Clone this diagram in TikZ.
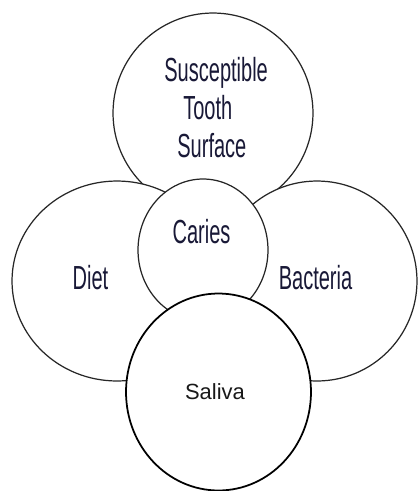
\documentclass[tikz,border=0pt]{standalone}
\usepackage{fontspec}
\setmainfont{Liberation Sans}
\newfontfamily\narrowfont[FakeStretch=0.6]{Liberation Sans}
\usetikzlibrary{shapes.geometric,positioning}
\definecolor{inkblue}{RGB}{25,25,55}

\begin{document}
\begin{tikzpicture}[
    x=0.02cm, y=-0.02cm,
    ring/.style={draw=black!85, ellipse, fill=white, line width=0.7pt, inner sep=0pt},
    ringbold/.style={ring, draw=black, line width=1.0pt},
    txt/.style={font=\narrowfont\fontsize{19}{21.5}\selectfont, text=inkblue, inner sep=0pt}
]
    \useasboundingbox (0,0) rectangle (417,491);

    % Top circle: tooth surface
    \node[ring, minimum width=4cm, minimum height=4cm] (tooth) at (213,113) {};
    \node[txt, align=left, anchor=north west] (toothtxt) at (164,57) {
        Susceptible\\
        \hspace*{10.8pt}Tooth\\
        \hspace*{7.4pt}Surface
    };

    % Side circles: diet and bacteria
    \node[ring, minimum width=4.2cm, minimum height=4cm] (diet) at (117,281) {};
    \node[ring, minimum width=4cm, minimum height=4cm] (bact) at (317,281) {};
    \node[txt, anchor=base] (diettxt) at (90.5,289) {Diet};
    \node[txt, anchor=base] (bacttxt) at (315.5,289) {Bacteria};

    % Centre circle: caries
    \node[ring, minimum width=2.6cm, minimum height=2.84cm] (caries) at (203,250) {};
    \node[txt, anchor=base] (cariestxt) at (201.5,243) {Caries};

    % Bottom circle: saliva
    \node[ringbold, minimum width=3.7cm, minimum height=3.94cm] (saliva) at (218.5,392) {};
    \node[font=\fontsize{12.5}{15}\selectfont, text=black!90, inner sep=0pt, anchor=base] (salivatxt) at (215,399) {Saliva};

\end{tikzpicture}
\end{document}
